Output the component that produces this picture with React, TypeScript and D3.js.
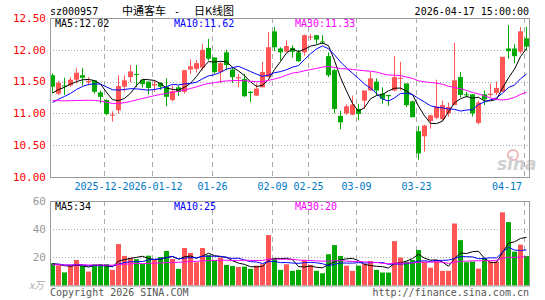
import * as d3 from "d3";
import React from "react";

// trading days shown (80 sessions)
const dates = [
  "2025-12-16", "2025-12-17", "2025-12-18", "2025-12-19", "2025-12-22", "2025-12-23", "2025-12-24", "2025-12-25",
  "2025-12-26", "2025-12-29", "2025-12-30", "2025-12-31", "2026-01-05", "2026-01-06", "2026-01-07", "2026-01-08",
  "2026-01-09", "2026-01-12", "2026-01-13", "2026-01-14", "2026-01-15", "2026-01-16", "2026-01-19", "2026-01-20",
  "2026-01-21", "2026-01-22", "2026-01-23", "2026-01-26", "2026-01-27", "2026-01-28", "2026-01-29", "2026-01-30",
  "2026-02-02", "2026-02-03", "2026-02-04", "2026-02-05", "2026-02-06", "2026-02-09", "2026-02-10", "2026-02-11",
  "2026-02-12", "2026-02-13", "2026-02-24", "2026-02-25", "2026-02-26", "2026-02-27", "2026-03-02", "2026-03-03",
  "2026-03-04", "2026-03-05", "2026-03-06", "2026-03-09", "2026-03-10", "2026-03-11", "2026-03-12", "2026-03-13",
  "2026-03-16", "2026-03-17", "2026-03-18", "2026-03-19", "2026-03-20", "2026-03-23", "2026-03-24", "2026-03-25",
  "2026-03-26", "2026-03-27", "2026-03-30", "2026-03-31", "2026-04-01", "2026-04-02", "2026-04-03", "2026-04-07",
  "2026-04-08", "2026-04-09", "2026-04-10", "2026-04-13", "2026-04-14", "2026-04-15", "2026-04-16", "2026-04-17",
];

const open = [
  11.60, 11.31, 11.44, 11.44, 11.53, 11.60, 11.49, 11.52, 11.33, 11.21, 10.97, 11.05, 11.42, 11.57, 11.62, 11.53,
  11.50, 11.44, 11.48, 11.42, 11.21, 11.41, 11.34, 11.69, 11.70, 11.72, 12.03, 11.88, 11.65, 11.96, 11.69, 11.55,
  11.54, 11.34, 11.28, 11.41, 11.57, 12.29, 12.02, 11.97, 12.03, 11.96, 11.96, 12.20, 12.23, 12.13, 11.90, 11.68,
  10.96, 11.00, 10.98, 11.07, 11.20, 11.36, 11.50, 11.31, 11.29, 11.36, 11.55, 11.47, 11.19, 10.72, 10.64, 10.88,
  10.93, 10.91, 11.00, 11.13, 11.57, 11.30, 11.30, 10.85, 11.30, 11.29, 11.32, 11.34, 12.02, 12.02, 11.97, 12.18,
];
const high = [
  11.63, 11.51, 11.56, 11.57, 11.71, 11.71, 11.57, 11.52, 11.36, 11.22, 11.03, 11.60, 11.60, 11.76, 11.76, 11.53,
  11.50, 11.52, 11.49, 11.55, 11.44, 11.44, 11.68, 11.85, 11.84, 12.09, 12.17, 11.88, 11.81, 12.00, 11.73, 11.62,
  11.62, 11.35, 11.47, 11.81, 12.28, 12.36, 12.04, 12.15, 12.07, 12.00, 12.24, 12.25, 12.23, 12.23, 11.96, 11.70,
  11.04, 11.14, 11.28, 11.15, 11.36, 11.65, 11.55, 11.41, 11.29, 11.90, 11.81, 11.47, 11.20, 10.80, 10.82, 10.98,
  11.53, 11.20, 11.17, 12.11, 11.65, 11.34, 11.30, 11.20, 11.36, 11.47, 11.50, 11.89, 12.39, 12.09, 12.36, 12.36,
];
const low = [
  11.32, 11.29, 11.29, 11.42, 11.47, 11.44, 11.44, 11.31, 11.16, 10.97, 10.87, 11.00, 11.34, 11.49, 11.42, 11.41,
  11.30, 11.34, 11.37, 11.11, 11.19, 11.27, 11.31, 11.62, 11.64, 11.68, 11.83, 11.62, 11.48, 11.68, 11.48, 11.41,
  11.26, 11.18, 11.27, 11.41, 11.57, 11.98, 11.83, 11.96, 11.88, 11.81, 11.91, 12.15, 12.09, 12.09, 11.57, 11.00,
  10.75, 10.98, 10.97, 10.89, 11.07, 11.36, 11.28, 11.15, 11.12, 11.34, 11.36, 11.10, 10.94, 10.27, 10.40, 10.76,
  10.91, 10.88, 10.95, 11.13, 11.25, 11.25, 10.95, 10.83, 11.13, 11.26, 11.29, 11.34, 11.86, 11.79, 11.94, 11.99,
];
const close = [
  11.42, 11.48, 11.43, 11.53, 11.64, 11.56, 11.51, 11.34, 11.26, 10.99, 10.98, 11.43, 11.52, 11.66, 11.61, 11.46,
  11.40, 11.46, 11.42, 11.26, 11.35, 11.34, 11.68, 11.74, 11.79, 12.00, 11.86, 11.65, 11.79, 11.76, 11.57, 11.57,
  11.27, 11.32, 11.39, 11.65, 12.04, 12.04, 11.96, 12.06, 11.97, 11.82, 12.23, 12.21, 12.16, 12.12, 11.60, 11.07,
  10.86, 11.11, 11.14, 10.99, 11.36, 11.55, 11.36, 11.23, 11.27, 11.57, 11.56, 11.13, 10.94, 10.37, 10.81, 10.97,
  11.11, 11.13, 11.10, 11.52, 11.29, 11.29, 11.00, 11.17, 11.22, 11.31, 11.40, 11.89, 11.98, 11.90, 12.29, 12.05,
];
// volume, 10k lots
const volume = [
  15.8, 14.3, 9.3, 14.1, 18.1, 14.1, 9.9, 15.1, 15.2, 15.2, 11.1, 29.4, 21.0, 19.6, 18.7, 15.2,
  21.2, 18.1, 20.2, 24.5, 18.8, 11.8, 26.6, 23.1, 16.5, 26.6, 21.6, 18.1, 19.8, 14.6, 13.9, 13.2,
  13.4, 11.8, 14.1, 15.1, 35.8, 19.5, 11.1, 15.1, 10.4, 11.1, 18.1, 14.6, 10.4, 8.7, 22.2, 28.7,
  21.0, 14.1, 10.4, 14.1, 15.1, 17.4, 11.1, 9.2, 9.2, 31.5, 19.8, 16.9, 18.1, 25.2, 16.9, 12.7,
  18.1, 10.4, 10.4, 44.0, 32.2, 16.5, 17.0, 12.0, 19.0, 17.0, 17.0, 52.0, 45.0, 24.0, 29.0, 21.0,
];
// the 29 sessions before the window, only used for the moving averages
const preClose = [
  11.48, 11.52, 11.45, 11.55, 11.50, 11.42, 11.47, 11.53, 11.58, 11.50, 11.44, 11.20, 11.05, 10.90, 10.78,
  10.72, 10.80, 10.85, 10.76, 10.80, 10.95, 11.00, 11.05, 11.02, 11.08, 11.20, 11.26, 11.28, 11.44,
];
const preVolume = [
  13.2, 15.6, 12.1, 17.8, 14.0, 11.5, 16.3, 13.7, 18.9, 12.4, 14.8, 15.1, 10.9, 13.6, 16.7,
  14.2, 12.8, 19.5, 15.3, 13.1, 12.6, 16.4, 14.9, 13.8, 15.5, 17.2, 13.4, 16.1, 15.0,
];

const priceTicks = [12.5, 12.0, 11.5, 11.0, 10.5, 10.0];
const volumeTicks = [60, 40, 20];
const tickDates = ["2025-12-29", "2026-01-12", "2026-01-26", "2026-02-09", "2026-02-25", "2026-03-09", "2026-03-23", "2026-04-17"];
const tickLabels = ["2025-12-29", "2026-01-12", "01-26", "02-09", "02-25", "03-09", "03-23", "04-17"];

const code = "sz000957";
const stamp = "2026-04-17 15:00:00";

const W = 545;
const H = 300;
const left = 50;
const right = 529;
const pTop = 18;
const pBottom = 177;
const vTop = 201;
const vBottom = 285.5;

const RED = "#ff5555";
const GREEN = "#00aa00";
const MONO = "'DejaVu Sans Mono', monospace";
const CHAR = 6.02;

function movingAvg(pre: number[], vals: number[], n: number) {
  const all = pre.concat(vals);
  return vals.map((_, i) => d3.mean(all.slice(i + pre.length - n + 1, i + pre.length + 1)) as number);
}

export default function App() {
  const x = d3.scaleBand<string>().domain(dates).range([left, left + 6 * dates.length]);
  const cx = (d: string) => (x(d) as number) + 2.5;
  const y = d3.scaleLinear().domain([10, 12.5]).range([pBottom, pTop]);
  const yv = d3.scaleLinear().domain([0, 60]).range([vBottom, vTop]);

  const ma = [5, 10, 30].map((n) => movingAvg(preClose, close, n));
  const vma = [5, 10, 30].map((n) => movingAvg(preVolume, volume, n));
  const maColors = ["#000000", "#0000ff", "#ff00ff"];
  const maX = [55, 174, 295];
  const last = dates.length - 1;

  const priceLine = d3.line<number>().x((_, i) => cx(dates[i])).y((v) => y(v));
  const volLine = d3.line<number>().x((_, i) => cx(dates[i])).y((v) => yv(v));

  const up = (i: number) => close[i] >= open[i];

  // date label positions: centred on the tick, kept inside the frame;
  // a label that runs under the next one only shows its uncovered part
  const labelX = tickDates.map((d, k) => {
    const w = tickLabels[k].length * CHAR;
    const tx = (x(d) as number) + 0.5 - w / 2;
    return tx + w > 522 ? 522 - w : tx;
  });
  const labelText = tickLabels.map((t, k) => {
    if (k === tickLabels.length - 1) return t;
    const room = Math.round((labelX[k + 1] - labelX[k]) / CHAR);
    return room < t.length ? t.slice(0, room) : t;
  });

  return (
    <div style={{ position: "fixed", left: 0, top: 0 }}>
      <svg width={W} height={H} style={{ display: "block", background: "#fff" }}>
        {/* header */}
        <text x={left} y={15} fontFamily={MONO} fontSize={10} fill="#000">{code}</text>
        <text x={122} y={15} fontFamily="'Noto Sans CJK SC'" fontSize={11} fill="#000">中通客车</text>
        <text x={177} y={15} fontFamily={MONO} fontSize={10} fill="#000" textAnchor="middle">-</text>
        <text x={194} y={15} fontFamily="'Noto Sans CJK SC'" fontSize={11} fill="#000">日K线图</text>
        <text x={right} y={15} fontFamily={MONO} fontSize={10} fill="#000" textAnchor="end">{stamp}</text>

        {/* price grid */}
        {priceTicks.slice(1, -1).map((t) => (
          <line key={t} x1={left} x2={right} y1={Math.round(y(t)) + 0.5} y2={Math.round(y(t)) + 0.5}
            stroke="#aaa" strokeDasharray="1,2" />
        ))}
        {volumeTicks.slice(1).map((t) => (
          <line key={t} x1={left} x2={right} y1={Math.round(yv(t)) + 0.5} y2={Math.round(yv(t)) + 0.5}
            stroke="#aaa" strokeDasharray="1,2" />
        ))}
        {tickDates.map((d) => (
          <g key={d}>
            <line x1={(x(d) as number) + 0.5} x2={(x(d) as number) + 0.5} y1={pTop} y2={pBottom}
              stroke="#aaa" strokeDasharray="5,4" />
            <line x1={(x(d) as number) + 0.5} x2={(x(d) as number) + 0.5} y1={vTop} y2={vBottom}
              stroke="#aaa" strokeDasharray="5,4" />
          </g>
        ))}

        {/* watermark */}
        <g opacity={0.55}>
          <circle cx={513} cy={155} r={5} fill="none" stroke="#e08080" strokeWidth={2} />
          <text x={497} y={170} fontFamily="'DejaVu Sans'" fontSize={17} fontStyle="italic" fontWeight="bold"
            fill="#aaaaaa">sina</text>
        </g>

        {/* candles */}
        {dates.map((d, i) => {
          const c = up(i) ? RED : GREEN;
          const top = y(Math.max(open[i], close[i]));
          const bot = y(Math.min(open[i], close[i]));
          return (
            <g key={d}>
              <line x1={cx(d)} x2={cx(d)} y1={y(high[i])} y2={y(low[i])} stroke={c} />
              <rect x={x(d)} y={top} width={5} height={Math.max(1, bot - top)} fill={c} />
            </g>
          );
        })}
        {ma.map((m, k) => (
          <path key={k} d={priceLine(m) as string} fill="none" stroke={maColors[k]} strokeWidth={1} />
        ))}

        {/* volume bars */}
        {dates.map((d, i) => (
          <rect key={d} x={x(d)} y={yv(volume[i])} width={5} height={vBottom - yv(volume[i])}
            fill={up(i) ? RED : GREEN} />
        ))}
        {vma.map((m, k) => (
          <path key={k} d={volLine(m) as string} fill="none" stroke={maColors[k]} strokeWidth={1} />
        ))}

        {/* frames */}
        <rect x={left + 0.5} y={pTop + 0.5} width={right - left} height={pBottom - pTop} fill="none" stroke="#999" />
        <rect x={left + 0.5} y={vTop + 0.5} width={right - left} height={vBottom - vTop} fill="none" stroke="#999" />

        {/* MA legends */}
        {ma.map((m, k) => (
          <text key={k} x={maX[k]} y={27} fontFamily={MONO} fontSize={10} fill={maColors[k]}>
            {`MA${[5, 10, 30][k]}:${m[last].toFixed(2)}`}
          </text>
        ))}
        {vma.map((m, k) => (
          <text key={k} x={maX[k]} y={210} fontFamily={MONO} fontSize={10} fill={maColors[k]}>
            {`MA${[5, 10, 30][k]}:${Math.round(m[last])}`}
          </text>
        ))}

        {/* axes labels */}
        {priceTicks.map((t) => (
          <text key={t} x={46} y={y(t)} dy="0.35em" fontFamily={MONO} fontSize={11} fill="#ff0000" textAnchor="end">
            {t.toFixed(2)}
          </text>
        ))}
        {volumeTicks.map((t) => (
          <text key={t} x={46} y={yv(t)} dy="0.35em" fontFamily={MONO} fontSize={11} fill="#999" textAnchor="end">
            {t}
          </text>
        ))}
        <text x={44} y={289} fontFamily="'Noto Sans CJK SC'" fontSize={10} fill="#aaa" textAnchor="end"
          fontStyle="italic">x万</text>

        {tickDates.map((d, k) => (
          <text key={d} x={labelX[k]} y={189.5} fontFamily={MONO} fontSize={10} fill="#0078c8">
            {labelText[k]}
          </text>
        ))}

        <text x={left} y={296} fontFamily={MONO} fontSize={10} fill="#555">Copyright 2026 SINA.COM</text>
        <text x={right} y={296} fontFamily={MONO} fontSize={10} fill="#555" textAnchor="end">
          http://finance.sina.com.cn
        </text>
      </svg>
    </div>
  );
}
